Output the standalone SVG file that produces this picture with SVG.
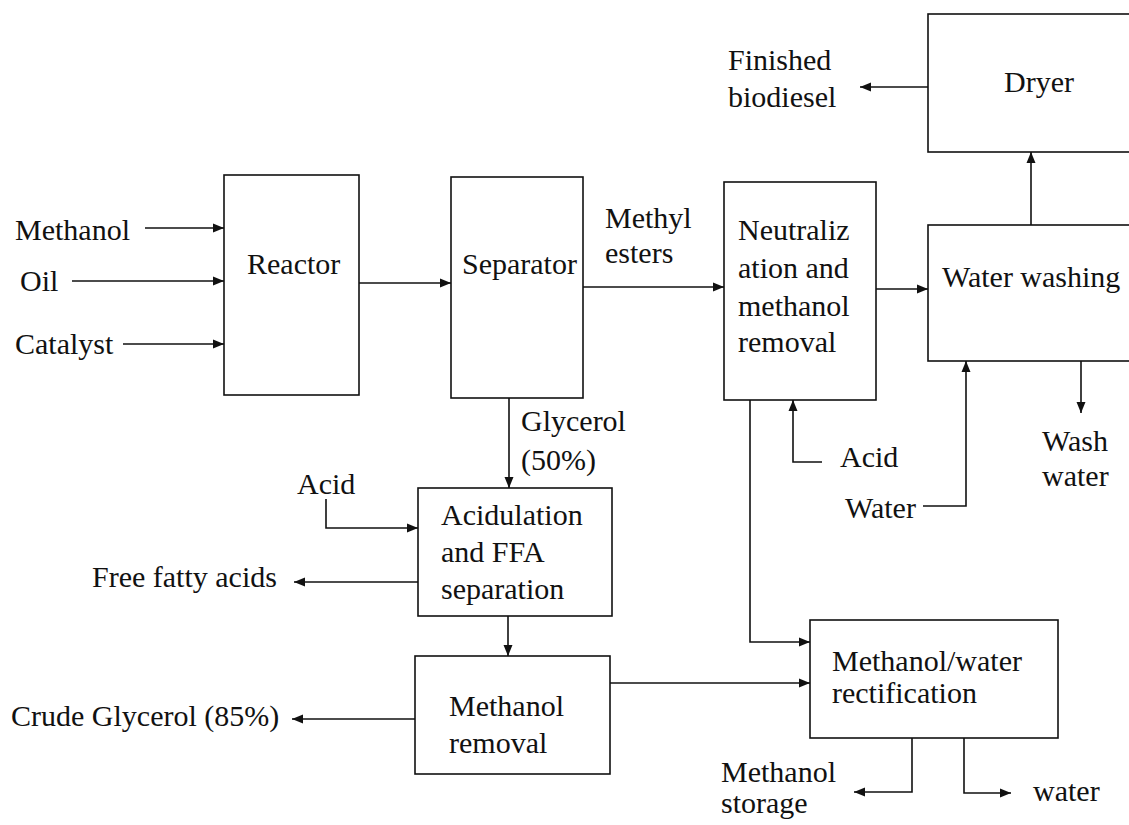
<svg xmlns="http://www.w3.org/2000/svg" width="1129" height="825" viewBox="0 0 1129 825">
<style>
text{font-family:"Liberation Serif","Tinos","Times New Roman","Nimbus Roman","DejaVu Serif",serif;font-size:30px;fill:#111}
.box{fill:none;stroke:#111;stroke-width:1.6}
.ln{fill:none;stroke:#111;stroke-width:1.6}
</style>
<defs>
<marker id="ah" markerUnits="userSpaceOnUse" markerWidth="12" markerHeight="10" refX="11" refY="5" orient="auto">
<path d="M0,0.5 L11,5 L0,9.5 z" fill="#111"/>
</marker>
</defs>
<rect width="1129" height="825" fill="#fff"/>

<g font-family="Liberation Serif, serif">
<g id="inputs">
<text x="15" y="240">Methanol</text>
<text x="20" y="291">Oil</text>
<text x="15" y="354">Catalyst</text>
</g>
<g id="reactor">
<rect class="box" x="224" y="175" width="135" height="220"/>
<text x="247" y="274">Reactor</text>
</g>
<g id="separator">
<rect class="box" x="451" y="177" width="132" height="221"/>
<text x="462" y="274">Separator</text>
</g>
<g id="methyl-esters">
<text x="605" y="228">Methyl</text>
<text x="605" y="263">esters</text>
</g>
<g id="neutralization">
<rect class="box" x="724" y="182" width="152" height="218"/>
<text x="738" y="240">Neutraliz</text>
<text x="738" y="278">ation and</text>
<text x="738" y="316">methanol</text>
<text x="738" y="352">removal</text>
</g>
<g id="water-washing">
<rect class="box" x="928" y="225" width="215" height="136"/>
<text x="942" y="287">Water washing</text>
</g>
<g id="dryer">
<rect class="box" x="928" y="14" width="215" height="138"/>
<text x="1004" y="92">Dryer</text>
</g>
<g id="finished-biodiesel">
<text x="728" y="70">Finished</text>
<text x="728" y="107">biodiesel</text>
</g>
<g id="glycerol-label">
<text x="521" y="431">Glycerol</text>
<text x="521" y="470">(50%)</text>
</g>
<g id="acid-left"><text x="297" y="494">Acid</text></g>
<g id="acidulation">
<rect class="box" x="418" y="488" width="194" height="128"/>
<text x="441" y="525">Acidulation</text>
<text x="441" y="562">and FFA</text>
<text x="441" y="599">separation</text>
</g>
<g id="ffa"><text x="92" y="587">Free fatty acids</text></g>
<g id="methanol-removal">
<rect class="box" x="415" y="656" width="195" height="118"/>
<text x="449" y="716">Methanol</text>
<text x="449" y="753">removal</text>
</g>
<g id="crude-glycerol"><text x="11" y="726">Crude Glycerol (85%)</text></g>
<g id="acid-neutral"><text x="840" y="467">Acid</text></g>
<g id="water-in"><text x="845" y="518">Water</text></g>
<g id="wash-water">
<text x="1042" y="451">Wash</text>
<text x="1042" y="486">water</text>
</g>
<g id="rectification">
<rect class="box" x="810" y="620" width="248" height="118"/>
<text x="832" y="671">Methanol/water</text>
<text x="832" y="703">rectification</text>
</g>
<g id="methanol-storage">
<text x="721" y="782">Methanol</text>
<text x="721" y="813">storage</text>
</g>
<g id="water-out"><text x="1033" y="801">water</text></g>
</g>

<g id="connectors">
<path class="ln" d="M145,228 H224" marker-end="url(#ah)"/>
<path class="ln" d="M72,281 H224" marker-end="url(#ah)"/>
<path class="ln" d="M123,344 H224" marker-end="url(#ah)"/>
<path class="ln" d="M359,283 H451" marker-end="url(#ah)"/>
<path class="ln" d="M583,287 H724" marker-end="url(#ah)"/>
<path class="ln" d="M876,289 H928" marker-end="url(#ah)"/>
<path class="ln" d="M1031,225 V152" marker-end="url(#ah)"/>
<path class="ln" d="M928,87 H860" marker-end="url(#ah)"/>
<path class="ln" d="M509,398 V488" marker-end="url(#ah)"/>
<path class="ln" d="M326,499 V528 H418" marker-end="url(#ah)"/>
<path class="ln" d="M418,582 H294" marker-end="url(#ah)"/>
<path class="ln" d="M508,616 V656" marker-end="url(#ah)"/>
<path class="ln" d="M415,719 H292" marker-end="url(#ah)"/>
<path class="ln" d="M610,683 H810" marker-end="url(#ah)"/>
<path class="ln" d="M750,400 V642 H810" marker-end="url(#ah)"/>
<path class="ln" d="M822,462 H793 V400" marker-end="url(#ah)"/>
<path class="ln" d="M923,506 H966 V361" marker-end="url(#ah)"/>
<path class="ln" d="M1081,361 V413" marker-end="url(#ah)"/>
<path class="ln" d="M912,738 V792 H854" marker-end="url(#ah)"/>
<path class="ln" d="M964,738 V793 H1011" marker-end="url(#ah)"/>
</g>
</svg>
